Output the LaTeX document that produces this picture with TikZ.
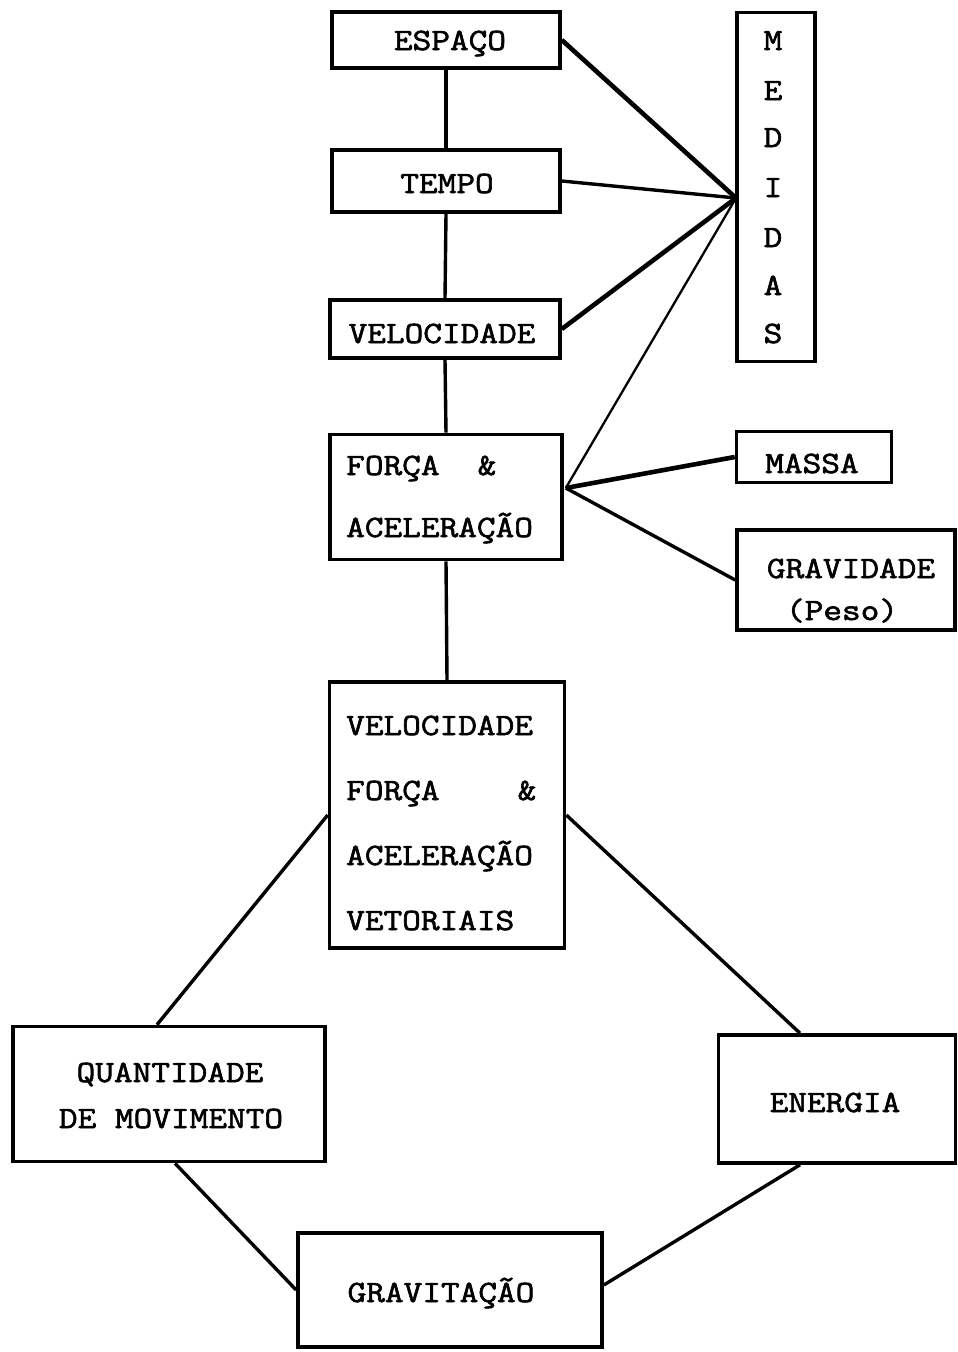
\documentclass[tikz,border=0pt]{standalone}
\usepackage{fontspec}
\setmonofont[FakeStretch=1.17,FakeBold=2]{Latin Modern Mono}
\usetikzlibrary{calc}
\begin{document}
\begin{tikzpicture}[x=1pt,y=-1pt,
  box/.style={draw,line width=3.6pt,rectangle,inner sep=0pt},
  txt/.style={font=\ttfamily\fontsize{31}{37}\selectfont,inner sep=0pt,anchor=base},
  txtw/.style={txt,anchor=base west},
  link/.style={line width=3.4pt},
  heavy/.style={line width=4.6pt},
  light/.style={line width=2.3pt}]
\useasboundingbox (0,0) rectangle (958,1352);
% boxes
\node[box,minimum width=228pt,minimum height=56pt] (espaco) at (446,40) {};
\node[box,minimum width=228pt,minimum height=62pt] (tempo) at (446,181) {};
\node[box,minimum width=230pt,minimum height=58pt] (veloc) at (445,329) {};
\node[box,minimum width=232pt,minimum height=125pt] (forca) at (446,497) {};
\node[box,minimum width=235pt,minimum height=266pt] (vet) at (447,815) {};
\node[box,minimum width=78pt,minimum height=349pt] (medidas) at (776,187) {};
\node[box,minimum width=155pt,minimum height=51pt] (massa) at (814,457) {};
\node[box,minimum width=218pt,minimum height=100pt] (grav) at (846,580) {};
\node[box,minimum width=312pt,minimum height=135pt] (quant) at (169,1094) {};
\node[box,minimum width=237pt,minimum height=128pt] (energia) at (837,1099) {};
\node[box,minimum width=304pt,minimum height=114pt] (gravit) at (450,1290) {};
% texts
\node[txt] (tEsp) at (450,50) {ESPAÇO};
\node[txt] (tTem) at (447,193) {TEMPO};
\node[txt] (tVel) at (442,343) {VELOCIDADE};
\node[txtw] (tF1) at (346,475) {FORÇA};
\node[txt] (tF2) at (487,475) {\&};
\node[txtw] (tF3) at (346,537) {ACELERAÇÃO};
\node[txtw] (tV1) at (346,735) {VELOCIDADE};
\node[txtw] (tV2) at (346,800) {FORÇA};
\node[txt] (tV3) at (527,800) {\&};
\node[txtw] (tV4) at (346,865) {ACELERAÇÃO};
\node[txtw] (tV5) at (346,930) {VETORIAIS};
\node[txt] (m1) at (773,50) {M};
\node[txt] (m2) at (773,100) {E};
\node[txt] (m3) at (773,147) {D};
\node[txt] (m4) at (773,197) {I};
\node[txt] (m5) at (773,247) {D};
\node[txt] (m6) at (773,295) {A};
\node[txt] (m7) at (773,343) {S};
\node[txt] (tMas) at (812,473) {MASSA};
\node[txt] (tGr1) at (851,578) {GRAVIDADE};
\node[txt] (tGr2) at (842,620) {(Peso)};
\node[txt] (tQ1) at (170,1082) {QUANTIDADE};
\node[txt] (tQ2) at (171,1128) {DE MOVIMENTO};
\node[txt] (tEn) at (835,1112) {ENERGIA};
\node[txt] (tGv) at (441,1302) {GRAVITAÇÃO};
% connectors
\coordinate (mp) at (736,198);
\coordinate (fe) at ($(forca.east)+(2,-9)$);
\draw[link] (espaco.south) -- (tempo.north);
\draw[link] (tempo.south) -- (veloc.north);
\draw[link] (veloc.south) -- (forca.north);
\draw[link] (forca.south) -- (vet.north);
\draw[heavy] (espaco.east) -- (mp);
\draw[link] (tempo.east) -- (mp);
\draw[heavy] (veloc.east) -- (mp);
\draw[light] (fe) -- (mp);
\draw[heavy] (fe) -- (massa.west);
\draw[link] (fe) -- (grav.west);
\draw[link] (vet.west) -- ($(quant.north)+(-12,0)$);
\draw[link] (vet.east) -- ($(energia.north)+(-37,0)$);
\draw[link] ($(quant.south)+(6,0)$) -- (gravit.west);
\draw[link] ($(energia.south)+(-37,0)$) -- ($(gravit.east)+(0,-5)$);
\end{tikzpicture}
\end{document}
